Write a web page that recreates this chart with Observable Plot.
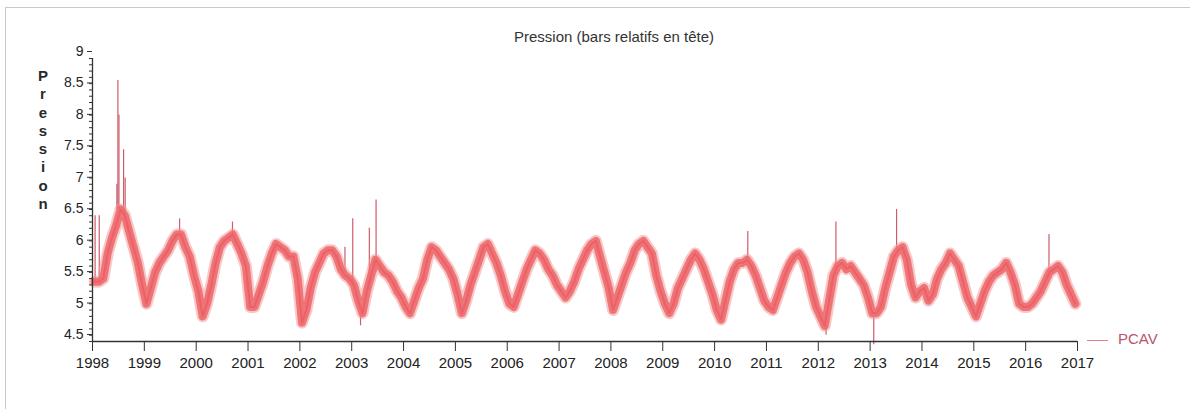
<!DOCTYPE html>
<html>
<head>
<meta charset="utf-8">
<script src="https://cdn.jsdelivr.net/npm/d3@7"></script>
<script src="https://cdn.jsdelivr.net/npm/@observablehq/plot@0.6"></script>
<style>
  html, body { margin: 0; padding: 0; background: #fff; }
  #wrap { position: relative; width: 1190px; height: 409px; overflow: hidden; font-family: "Liberation Sans", Arial, sans-serif; }
  #frame { position: absolute; left: 5px; top: 7px; width: 1190px; height: 420px; border-top: 1px solid #c9c9c9; border-left: 1px solid #c9c9c9; }
  #title { position: absolute; left: 0; width: 1228px; top: 28px; text-align: center; font-size: 15px; color: #333; }
  #ylab { position: absolute; left: 35px; top: 67px; width: 16px; font-size: 15px; font-weight: bold; color: #2a2a2a; text-align: center; line-height: 18.3px; }
  #legend { position: absolute; left: 1087px; top: 330px; font-size: 15px; color: #b8566d; display: flex; align-items: center; }
  #legend .sw { display: inline-block; width: 21px; height: 0; border-top: 1.5px solid #e07f8e; margin-right: 10px; margin-top: 4px; }
  svg { position: absolute; left: 0; top: 0; }
</style>
</head>
<body>
<div id="wrap">
  <div id="frame"></div>
  <div id="title"></div>
  <div id="ylab"></div>
  <div id="legend"><span class="sw"></span><span id="legtext"></span></div>
</div>
<script>
const title = "Pression (bars relatifs en tête)";
const yLabel = "Pression";
const seriesName = "PCAV";
const xTicks = d3.range(1998, 2018);
const yTicks = [4.5, 5, 5.5, 6, 6.5, 7, 7.5, 8, 8.5, 9];

// Monthly values (Jan..Dec)
const years = [1998, 1999, 2000, 2001, 2002, 2003, 2004, 2005, 2006, 2007, 2008, 2009, 2010, 2011, 2012, 2013, 2014, 2015, 2016];
const v1998 = [5.45, 5.45, 5.5, 5.9, 6.15, 6.35, 6.6, 6.5, 6.25, 6.0, 5.75, 5.4];
const v1999 = [5.1, 5.35, 5.6, 5.75, 5.85, 5.95, 6.1, 6.2, 6.2, 6.0, 5.85, 5.55];
const v2000 = [5.3, 4.9, 5.1, 5.4, 5.75, 6.0, 6.1, 6.15, 6.2, 6.05, 5.9, 5.7];
const v2001 = [5.05, 5.05, 5.25, 5.45, 5.7, 5.9, 6.05, 6.0, 5.95, 5.85, 5.85, 5.5];
const v2002 = [4.8, 5.0, 5.35, 5.6, 5.75, 5.9, 5.95, 5.95, 5.85, 5.65, 5.55, 5.5];
const v2003 = [5.4, 5.15, 4.95, 5.3, 5.55, 5.8, 5.7, 5.6, 5.55, 5.45, 5.3, 5.2];
const v2004 = [5.05, 4.95, 5.15, 5.35, 5.5, 5.8, 6.0, 5.95, 5.85, 5.75, 5.65, 5.5];
const v2005 = [5.25, 4.95, 5.15, 5.4, 5.6, 5.8, 6.0, 6.05, 5.9, 5.75, 5.55, 5.3];
const v2006 = [5.1, 5.05, 5.25, 5.45, 5.65, 5.8, 5.95, 5.9, 5.8, 5.65, 5.55, 5.4];
const v2007 = [5.3, 5.2, 5.3, 5.45, 5.65, 5.8, 5.95, 6.05, 6.1, 5.85, 5.6, 5.35];
const v2008 = [5.0, 5.2, 5.4, 5.6, 5.75, 5.95, 6.05, 6.1, 6.0, 5.9, 5.55, 5.3];
const v2009 = [5.1, 4.95, 5.1, 5.35, 5.5, 5.65, 5.8, 5.9, 5.8, 5.65, 5.45, 5.25];
const v2010 = [5.0, 4.85, 5.15, 5.45, 5.65, 5.75, 5.75, 5.8, 5.7, 5.55, 5.35, 5.15];
const v2011 = [5.05, 5.0, 5.2, 5.4, 5.6, 5.75, 5.85, 5.9, 5.8, 5.6, 5.3, 5.05];
const v2012 = [4.9, 4.75, 5.15, 5.55, 5.7, 5.75, 5.65, 5.7, 5.6, 5.5, 5.4, 5.2];
const v2013 = [4.95, 4.95, 5.05, 5.35, 5.6, 5.85, 5.95, 6.0, 5.8, 5.4, 5.2, 5.3];
const v2014 = [5.35, 5.15, 5.25, 5.5, 5.65, 5.75, 5.9, 5.8, 5.7, 5.45, 5.2, 5.05];
const v2015 = [4.9, 5.1, 5.3, 5.45, 5.55, 5.6, 5.65, 5.75, 5.6, 5.4, 5.1, 5.05];
const v2016 = [5.05, 5.1, 5.2, 5.3, 5.45, 5.6, 5.65, 5.7, 5.6, 5.4, 5.25, 5.1];
const series = [v1998, v1999, v2000, v2001, v2002, v2003, v2004, v2005, v2006, v2007, v2008, v2009, v2010, v2011, v2012, v2013, v2014, v2015, v2016];

// Isolated spikes (decimal year, base value, peak value)
const spikeDates = [1998.05, 1998.13, 1998.47, 1998.49, 1998.51, 1998.6, 1998.63, 1999.68, 2000.7, 2002.87, 2003.02, 2003.17, 2003.34, 2003.47, 2010.64, 2012.15, 2012.34, 2013.07, 2013.51, 2016.45];
const spikeBase  = [5.45, 5.45, 6.6, 6.6, 6.6, 6.5, 6.5, 6.2, 6.2, 5.6, 5.4, 4.95, 5.3, 5.6, 5.8, 4.75, 5.55, 4.95, 5.95, 5.5];
const spikeTop   = [6.5, 6.5, 7.0, 8.65, 8.1, 7.55, 7.1, 6.45, 6.4, 6.0, 6.45, 4.75, 6.3, 6.75, 6.25, 4.6, 6.4, 4.45, 6.6, 6.2];

const monthly = years.flatMap((yr, i) => series[i].map((v, m) => ({date: yr + (m + 0.5) / 12, value: v})));
const spikes = spikeDates.map((d, i) => ({date: d, base: spikeBase[i], top: spikeTop[i]}));

document.getElementById("title").textContent = title;
document.getElementById("ylab").innerHTML = yLabel.split("").join("<br>");
document.getElementById("legtext").textContent = seriesName;

const chart = Plot.plot({
  width: 1190,
  height: 409,
  marginLeft: 92,
  marginRight: 113,
  marginTop: 58,
  marginBottom: 68,
  style: {fontFamily: "'Liberation Sans', Arial, sans-serif", color: "#222", background: "transparent"},
  x: {domain: [1998, 2017]},
  y: {domain: [4.5, 9]},
  marks: [
    Plot.ruleX(spikes, {x: "date", y1: "base", y2: "top", stroke: "#cf5c68", strokeWidth: 1.2}),
    Plot.line(monthly, {x: "date", y: "value", stroke: "#f39a9a", strokeWidth: 12, strokeLinejoin: "round", strokeLinecap: "round", strokeOpacity: 0.55}),
    Plot.line(monthly, {x: "date", y: "value", stroke: "#ef6b6e", strokeWidth: 8, strokeLinejoin: "round", strokeLinecap: "round", strokeOpacity: 0.92}),
    Plot.line(monthly, {x: "date", y: "value", stroke: "#e65560", strokeWidth: 2, strokeOpacity: 0.6}),
    Plot.dot(monthly, {x: "date", y: "value", symbol: "plus", r: 2, fill: "#444", fillOpacity: 0.35}),
    Plot.dot(spikes, {x: "date", y: "top", symbol: "plus", r: 2, fill: "#555", fillOpacity: 0.6}),
    Plot.axisY({ticks: d3.range(4.5, 9.001, 0.1), tickSize: 3, text: null, stroke: "#333"}),
    Plot.axisY({ticks: yTicks, tickSize: 5, tickPadding: 4, dy: -7, fontSize: 14, tickFormat: d => String(d), label: null, stroke: "#333", fill: "#222"}),
    Plot.axisX({ticks: xTicks, tickSize: 10, tickPadding: 6, fontSize: 15, tickFormat: d => String(d), label: null, stroke: "#333", fill: "#222"}),
    Plot.ruleY([4.5], {stroke: "#333", strokeWidth: 1.6}),
    Plot.ruleX([1998], {stroke: "#333", strokeWidth: 1.3})
  ]
});
document.getElementById("wrap").appendChild(chart);
</script>
</body>
</html>
